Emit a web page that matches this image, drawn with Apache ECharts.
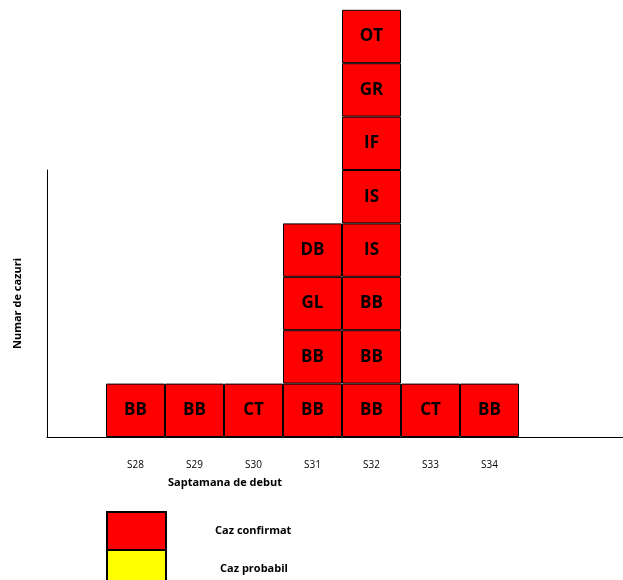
<!DOCTYPE html>
<html><head><meta charset="utf-8">
<script src="https://cdn.jsdelivr.net/npm/echarts@6/dist/echarts.min.js"></script>
<style>html,body{margin:0;padding:0;background:#fff}#c{width:623px;height:580px}</style>
</head><body><div id="c"></div>
<script>
const weeks = ['S28','S29','S30','S31','S32','S33','S34'];
// case codes per week, listed from bottom of stack to top
const confirmedCases = [
  ['BB'],
  ['BB'],
  ['CT'],
  ['BB','BB','GL','DB'],
  ['BB','BB','BB','IS','IS','IF','GR','OT'],
  ['CT'],
  ['BB']
];
const probableCases = [[],[],[],[],[],[],[]];
const legendNames = ['Caz confirmat','Caz probabil'];
const xAxisTitle = 'Saptamana de debut';
const yAxisTitle = 'Numar de cazuri';

const FONT = 'Open Sans';
const axisCats = [''].concat(weeks, ['', '']);
const maxLevel = Math.max(...confirmedCases.map(c => c.length));
const series = [];
for (let lvl = 0; lvl < maxLevel; lvl++) {
  const data = ['-'].concat(confirmedCases.map(c => c[lvl] ? {value: 1, code: c[lvl]} : '-'), ['-','-']);
  series.push({
    name: legendNames[0], type: 'bar', stack: 'cases', clip: false,
    barCategoryGap: '0%', barGap: '0%',
    itemStyle: {color: '#FF0000', borderColor: '#000', borderWidth: 1},
    label: {show: true, position: 'inside', color: '#000', fontFamily: FONT, fontWeight: 'bold', fontSize: 17,
      formatter: p => (p.data && p.data.code) ? p.data.code : ''},
    emphasis: {disabled: true},
    data: data
  });
}
series.push({
  name: legendNames[1], type: 'bar', stack: 'cases', clip: false,
  barCategoryGap: '0%',
  itemStyle: {color: '#FFFF00', borderColor: '#000', borderWidth: 1},
  data: ['-'].concat(probableCases.map(c => c.length ? c.length : '-'), ['-','-'])
});

const legendBase = {
  orient: 'vertical', left: 106, padding: 0,
  itemWidth: 59, itemHeight: 38, itemGap: 0, icon: 'rect',
  selectedMode: false,
  textStyle: {color: '#000', fontFamily: FONT, fontWeight: 'bold', fontSize: 11, padding: [0,0,0,44]}
};

const chart = echarts.init(document.getElementById('c'), null, {renderer: 'canvas'});
chart.setOption({
  animation: false,
  backgroundColor: '#fff',
  grid: {left: 47, width: 590, top: 170, height: 267, containLabel: false, outerBoundsMode: 'none'},
  xAxis: {
    type: 'category', data: axisCats,
    axisLine: {show: true, lineStyle: {color: '#000', width: 1}},
    axisTick: {show: false},
    axisLabel: {color: '#000', fontFamily: FONT, fontSize: 10, margin: 23, interval: 0},
    splitLine: {show: false}
  },
  yAxis: {
    type: 'value', min: 0, max: 5,
    name: yAxisTitle, nameLocation: 'middle', nameRotate: 90, nameGap: 24,
    nameTextStyle: {color: '#000', fontFamily: FONT, fontWeight: 'bold', fontSize: 11},
    axisLine: {show: true, lineStyle: {color: '#000', width: 1}},
    axisTick: {show: false}, axisLabel: {show: false}, splitLine: {show: false}
  },
  legend: [
    Object.assign({}, legendBase, {data: [legendNames[0]], top: 511}),
    Object.assign({}, legendBase, {data: [legendNames[1]], top: 549, textStyle: Object.assign({}, legendBase.textStyle, {padding: [0,0,0,49]})})
  ],
  graphic: [{
    type: 'text', left: 168, top: 477,
    style: {text: xAxisTitle, fill: '#000', font: 'bold 11px "Open Sans"'}
  }],
  series: series
});
</script></body></html>
